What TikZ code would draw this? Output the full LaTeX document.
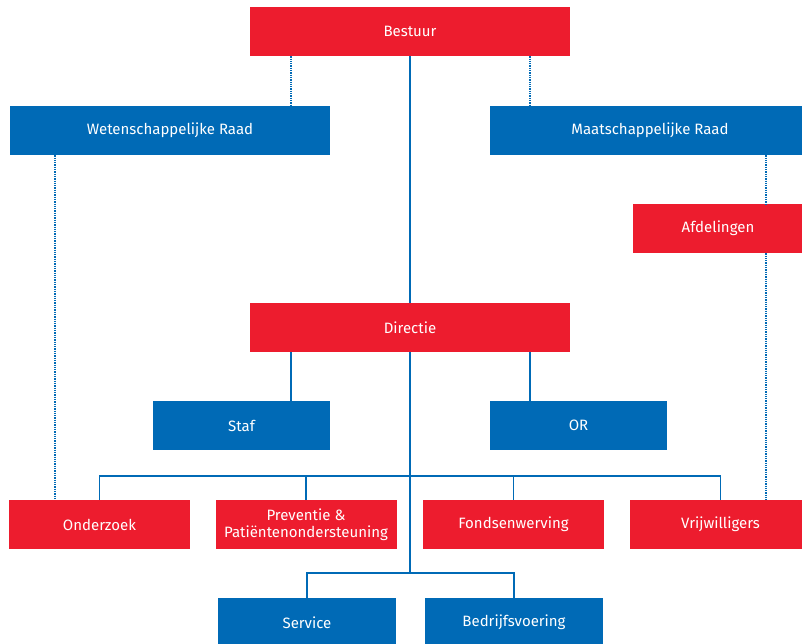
\documentclass[tikz,border=0pt]{standalone}
\usepackage{fontspec}
\setmainfont{Fira Sans}
\usetikzlibrary{calc}
\definecolor{kwfred}{RGB}{237,28,46}
\definecolor{kwfblue}{RGB}{0,106,182}

\tikzset{
  box/.style={text=white, minimum height=49pt, inner sep=0pt, align=center,
    font=\fontsize{15}{17}\selectfont},
  redbox/.style={box, fill=kwfred},
  bluebox/.style={box, fill=kwfblue},
  link/.style={draw=kwfblue, line width=1.3pt},
  dotlink/.style={draw=kwfblue, line width=2pt, dash pattern=on 1.3pt off 1pt}
}

\begin{document}
\begin{tikzpicture}[x=1pt, y=-1pt]
  \clip (0,0) rectangle (802,643);

  % top levels
  \node[redbox, minimum width=320pt] (bestuur) at (410,31.5) {Bestuur};
  \node[bluebox, minimum width=320pt] (wraad) at (170,130.5) {Wetenschappelijke Raad};
  \node[bluebox, minimum width=320pt] (mraad) at (650,130.5) {Maatschappelijke Raad};
  \node[redbox, minimum width=170pt] (afdelingen) at (718,228.5) {Afdelingen};
  \node[redbox, minimum width=320pt] (directie) at (410,327.5) {Directie};
  \node[bluebox, minimum width=177pt] (staf) at (241.5,425.5) {Staf};
  \node[bluebox, minimum width=177pt] (or) at (578.5,425.5) {OR};

  % departments
  \node[redbox, minimum width=181pt] (onderzoek) at (99.5,524.5) {Onderzoek};
  \node[redbox, minimum width=181pt] (preventie) at (306,524.5) {Preventie \&\\Patiëntenondersteuning};
  \node[redbox, minimum width=181pt] (fondsen) at (513.5,524.5) {Fondsenwerving};
  \node[redbox, minimum width=181pt] (vrijwilligers) at (720.5,524.5) {Vrijwilligers};
  \node[bluebox, minimum width=178pt] (service) at (307,622.5) {Service};
  \node[bluebox, minimum width=178pt] (bedrijf) at (514,622.5) {Bedrijfsvoering};

  \coordinate (bus1) at (410,476);
  \coordinate (bus2) at (410,573);

  % solid lines
  \path[link]
    (bestuur.south) edge (directie.north)
    (directie.south) edge (bus2)
    ([xshift=-119pt]directie.south) edge ([xshift=-119pt]directie.south |- staf.north)
    ([xshift=120pt]directie.south) edge ([xshift=120pt]directie.south |- or.north)
    (preventie.north) edge (preventie.north |- bus1)
    (fondsen.north) edge (fondsen.north |- bus1);
  \draw[link] (onderzoek.north) |- (bus1) -| (vrijwilligers.north);
  \draw[link] (service.north) |- (bus2) -| (bedrijf.north);

  % dotted lines
  \path[dotlink]
    ([xshift=-119pt]bestuur.south) edge ([xshift=-119pt]bestuur.south |- wraad.north)
    ([xshift=120pt]bestuur.south) edge ([xshift=120pt]bestuur.south |- mraad.north)
    ([xshift=45pt]wraad.south west) edge ([xshift=45pt]wraad.south west |- onderzoek.north)
    ([xshift=-44pt]mraad.south east) edge ([xshift=-44pt]mraad.south east |- afdelingen.north)
    ([xshift=-44pt]mraad.south east |- afdelingen.south) edge ([xshift=-44pt]mraad.south east |- vrijwilligers.north);
\end{tikzpicture}
\end{document}
